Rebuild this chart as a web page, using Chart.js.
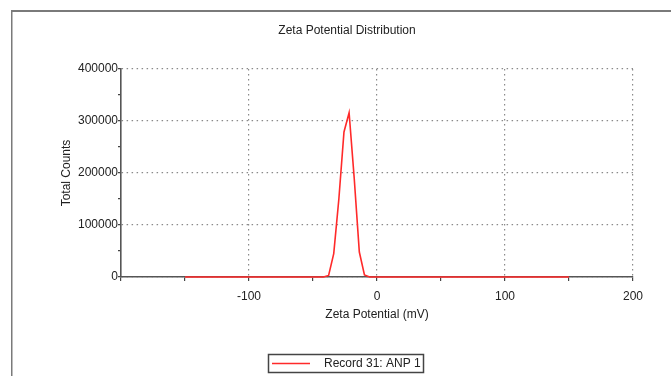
<!DOCTYPE html>
<html><head><meta charset="utf-8">
<script src="https://cdn.jsdelivr.net/npm/chart.js@4.4.0/dist/chart.umd.min.js"></script>
<style>html,body{margin:0;padding:0;background:#fff;overflow:hidden;} #wrap{position:relative;width:671px;height:376px;}</style>
</head><body><div id="wrap"><canvas id="c" width="671" height="376"></canvas></div>
<script>
const chartTitle = 'Zeta Potential Distribution';
const xAxisTitle = 'Zeta Potential (mV)';
const yAxisTitle = 'Total Counts';
const seriesName = 'Record 31: ANP 1';
const zetaPotential = [-150, -41.8, -37.8, -33.8, -29.8, -25.8, -21.8, -17.8, -13.8, -9.8, -5.8, 150];
const totalCounts   = [0, 0, 3000, 45000, 150000, 279000, 316000, 190000, 48000, 4000, 0, 0];
const xTickLabels = [-100, 0, 100, 200];
const yTickLabels = [0, 100000, 200000, 300000, 400000];

const FONT = '"Liberation Sans", Arial, sans-serif';
const TEXT = '#222';
const LINE_RED = '#ff2a2a';
Chart.defaults.font.family = FONT;
Chart.defaults.font.size = 12;
Chart.defaults.color = TEXT;

const decor = {
  id: 'decor',
  beforeDraw(chart) {
    const ctx = chart.ctx;
    ctx.save();
    ctx.fillStyle = '#7a7a7a';
    ctx.fillRect(11, 10, 660, 2);
    ctx.fillRect(11, 10, 1.5, 366);
    ctx.restore();
  },
  afterDraw(chart) {
    const ctx = chart.ctx;
    ctx.save();
    ctx.font = '12px ' + FONT;
    ctx.fillStyle = TEXT;
    ctx.textAlign = 'center';
    ctx.textBaseline = 'middle';
    ctx.fillText(chartTitle, 347, 31);
    // legend
    ctx.strokeStyle = '#444';
    ctx.lineWidth = 1.5;
    ctx.strokeRect(268.5, 354.5, 155, 18);
    const ds = chart.data.datasets[0];
    ctx.strokeStyle = ds.borderColor;
    ctx.lineWidth = 1.5;
    ctx.beginPath(); ctx.moveTo(272, 363.5); ctx.lineTo(310, 363.5); ctx.stroke();
    ctx.textAlign = 'left';
    ctx.fillStyle = TEXT;
    ctx.fillText(ds.label, 324, 364);
    ctx.restore();
  }
};

const gridColor = (labels) => (c) => (c.tick && labels.includes(c.tick.value)) ? '#8a8a8a' : 'rgba(0,0,0,0)';

new Chart(document.getElementById('c'), {
  type: 'scatter',
  data: {
    datasets: [{
      label: seriesName,
      data: zetaPotential.map((x, i) => ({x: x, y: totalCounts[i]})),
      showLine: true,
      borderColor: LINE_RED,
      backgroundColor: LINE_RED,
      borderWidth: 1.6,
      pointRadius: 0,
      tension: 0,
      clip: false
    }]
  },
  plugins: [decor],
  options: {
    responsive: false,
    animation: false,
    devicePixelRatio: 1,
    layout: { padding: { top: 69, left: 0, right: 38, bottom: 49 } },
    plugins: { legend: { display: false }, title: { display: false }, tooltip: { enabled: false } },
    scales: {
      x: {
        type: 'linear', min: -200, max: 200,
        afterFit: (s) => { s.height = 50; s.paddingLeft = 0; s.paddingRight = 0; },
        ticks: {
          stepSize: 50, autoSkip: false, maxRotation: 0, padding: 8, color: TEXT,
          callback: (v) => xTickLabels.includes(v) ? String(v) : ''
        },
        grid: { color: gridColor(xTickLabels), lineWidth: 1.2, tickLength: 4, tickColor: '#444', tickWidth: 1.2 },
        border: { display: true, color: '#555', width: 1.6, dash: [1.5, 3.5] },
        title: { display: true, text: xAxisTitle, color: TEXT, font: { size: 12 }, padding: { top: 0, bottom: 5 } }
      },
      y: {
        min: 0, max: 400000,
        afterFit: (s) => { s.width = 121; s.paddingTop = 0; s.paddingBottom = 0; },
        ticks: {
          stepSize: 50000, autoSkip: false, padding: 0, color: TEXT,
          callback: (v) => yTickLabels.includes(v) ? String(v) : ''
        },
        grid: { color: gridColor(yTickLabels), lineWidth: 1.2, tickLength: 3, tickColor: '#444', tickWidth: 1.2 },
        border: { display: true, color: '#555', width: 1.6, dash: [1.5, 3.5] },
        title: { display: true, text: yAxisTitle, color: TEXT, font: { size: 12 }, padding: { top: 59, bottom: 0 } }
      }
    }
  }
});
</script>
</body></html>
